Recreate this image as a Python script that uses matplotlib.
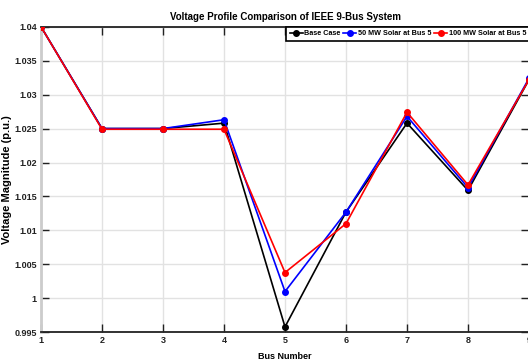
import numpy as np
import matplotlib
matplotlib.use('Agg')
import matplotlib.pyplot as plt
from matplotlib.ticker import FuncFormatter

plt.rcParams['font.family'] = ['Liberation Sans', 'DejaVu Sans']

# ── data ──────────────────────────────────────────────────────────────────────
buses      = [1, 2, 3, 4, 5, 6, 7, 8, 9]
base_case  = [1.0400, 1.0250, 1.0250, 1.0258, 0.9958, 1.0127, 1.0258, 1.0159, 1.0322]
solar_50   = [1.0400, 1.0250, 1.0250, 1.0263, 1.0010, 1.0127, 1.0268, 1.0163, 1.0324]
solar_100  = [1.0400, 1.0249, 1.0249, 1.0249, 1.0038, 1.0110, 1.0274, 1.0167, 1.0322]
series_labels = ["Base Case", "50 MW Solar at Bus 5", "100 MW Solar at Bus 5"]

# ── plot ──────────────────────────────────────────────────────────────────────
fig = plt.figure(figsize=(5.28, 3.63), dpi=100)
ax = fig.add_axes([41 / 528, 30.7 / 363, 488 / 528, 305.6 / 363])

colors = ["black", "blue", "red"]
for vals, c, lab in zip([base_case, solar_50, solar_100], colors, series_labels):
    ax.plot(buses, vals, color=c, lw=1.2, marker="o", markersize=4,
            label=lab, zorder=3)

ax.set_xlim(1, 9)
ax.set_ylim(0.995, 1.04)
ax.set_xticks(buses)
ax.set_yticks(np.arange(0.995, 1.0401, 0.005))
ax.yaxis.set_major_formatter(FuncFormatter(lambda v, p: f"{v:.3f}".rstrip("0").rstrip(".")))

ax.grid(True, color="#e2e2e2", lw=1.0, zorder=0)
ax.tick_params(direction="in", length=6, width=1.0, top=True, right=True,
               labelsize=6.5, pad=3, colors="#222222")
for lbl in ax.get_xticklabels() + ax.get_yticklabels():
    lbl.set_fontweight("bold")
for side in ["top", "bottom", "right"]:
    ax.spines[side].set_color("#222222")
    ax.spines[side].set_linewidth(1.3)
ax.spines["left"].set_color("#cccccc")
ax.spines["left"].set_linewidth(2)

ax.set_title("Voltage Profile Comparison of IEEE 9-Bus System",
             fontsize=7, fontweight="bold", pad=5)
ax.set_xlabel("Bus Number", fontsize=6.5, fontweight="bold")
ax.set_ylabel("Voltage Magnitude (p.u.)", fontsize=8, fontweight="bold")
ax.xaxis.set_label_coords(0.5, -20 / 305.6, transform=ax.transAxes)
ax.yaxis.set_label_coords(-29 / 488, 0.5, transform=ax.transAxes)

leg_fs = 5.2
em_px = leg_fs * 100 / 72
leg = ax.legend(loc="upper left", bbox_to_anchor=((286 - 41) / 488, 1.0), ncol=3,
                prop={"size": leg_fs, "weight": "bold"}, frameon=True, fancybox=False,
                edgecolor="black", handlelength=13 / em_px, handletextpad=0.2,
                columnspacing=0.4, borderpad=0.5, borderaxespad=0, framealpha=1)
leg.get_frame().set_linewidth(1.2)

fig.savefig("out.png", dpi=100)
